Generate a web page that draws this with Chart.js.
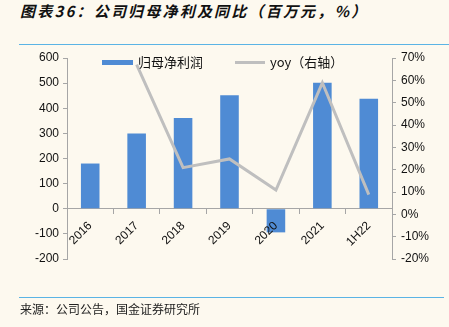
<!DOCTYPE html>
<html>
<head>
<meta charset="utf-8">
<script src="https://cdn.jsdelivr.net/npm/chart.js@4.4.0/dist/chart.umd.min.js"></script>
<style>
  html, body { margin: 0; padding: 0; background: #fdf9ef; }
  #wrap { position: relative; width: 449px; height: 327px; overflow: hidden; }
  #title { position: absolute; left: 20px; top: 0px; font: italic bold 15px "Noto Sans CJK SC", sans-serif; color: #111; letter-spacing: 2.2px; white-space: nowrap; }
  .rule { position: absolute; left: 19px; height: 1px; background: #5bb4e5; }
  #src { position: absolute; left: 20px; top: 300px; font: 12px "Noto Sans CJK SC", serif; color: #222; white-space: nowrap; }
  #c { position: absolute; left: 0; top: 0; }
</style>
</head>
<body>
<div id="wrap">
  <div id="title">图表36：公司归母净利及同比（百万元，%）</div>
  <div class="rule" style="top:44px; width:430px;"></div>
  <canvas id="c" width="449" height="327"></canvas>
  <div class="rule" style="top:297px; width:425px;"></div>
  <div id="src">来源：公司公告，国金证券研究所</div>
</div>
<script>
var years = ['2016', '2017', '2018', '2019', '2020', '2021', '1H22'];
var profit = [180, 300, 361, 452, -94, 501, 438];     // 归母净利润, 百万元
var yoy = [null, 67, 20.9, 24.8, 10.9, 58.9, 8.8];    // 同比, %
var leftTicks = [-200, 600, 100];
var rightTicks = [-20, 70, 10];

var barColor = '#4f8bd4';
var lineColor = '#bfbfbf';
var axisColor = '#a6a6a6';
var tickFont = { family: 'Liberation Sans, Arial', size: 12 };

// legend sits inside the plot, over the line
var insideLegend = {
  id: 'insideLegend',
  afterDatasetsDraw: function (chart) {
    var ctx = chart.ctx;
    ctx.save();
    ctx.fillStyle = '#fdf9ef';
    ctx.fillRect(137, 52, 72, 12);
    ctx.fillRect(268, 52, 80, 12);
    ctx.fillStyle = barColor;
    ctx.fillRect(102, 60, 31, 5);
    ctx.strokeStyle = lineColor;
    ctx.lineWidth = 3;
    ctx.beginPath();
    ctx.moveTo(235, 62.5);
    ctx.lineTo(265, 62.5);
    ctx.stroke();
    ctx.fillStyle = '#111';
    ctx.font = '13px "Noto Sans CJK SC", sans-serif';
    ctx.textBaseline = 'middle';
    ctx.fillText('归母净利润', 138, 62);
    ctx.fillText('yoy（右轴）', 270, 62);
    ctx.restore();
  }
};

new Chart(document.getElementById('c'), {
  type: 'bar',
  data: {
    labels: years,
    datasets: [{
      type: 'line',
      label: 'yoy（右轴）',
      data: yoy,
      yAxisID: 'y2',
      borderColor: lineColor,
      borderWidth: 3,
      pointRadius: 0,
      tension: 0,
      order: 0
    }, {
      label: '归母净利润',
      data: profit,
      yAxisID: 'y',
      backgroundColor: barColor,
      categoryPercentage: 1,
      barPercentage: 0.4,
      order: 1
    }]
  },
  options: {
    responsive: false,
    animation: false,
    layout: { padding: { left: 22, right: 0, top: 58, bottom: 68 } },
    plugins: { legend: { display: false }, tooltip: { enabled: false } },
    scales: {
      x: {
        position: { y: 0 },
        grid: { offset: true, drawOnChartArea: false, tickLength: 5, color: axisColor },
        border: { color: axisColor },
        ticks: { z: 1, color: '#111', font: tickFont, minRotation: 45, maxRotation: 45, padding: 5 }
      },
      y: {
        position: 'left',
        min: leftTicks[0], max: leftTicks[1],
        grid: { drawOnChartArea: false, tickLength: 4, color: axisColor },
        border: { color: axisColor },
        ticks: { stepSize: leftTicks[2], color: '#111', font: tickFont, padding: 4 },
        afterFit: function (s) { s.width = 45; }
      },
      y2: {
        position: 'right',
        min: rightTicks[0], max: rightTicks[1],
        grid: { drawOnChartArea: false, tickLength: 4, color: axisColor },
        border: { color: axisColor },
        ticks: { stepSize: rightTicks[2], color: '#111', font: tickFont, padding: 5,
          callback: function (v) { return v + '%'; } },
        afterFit: function (s) { s.width = 57; }
      }
    }
  },
  plugins: [insideLegend]
});
</script>
</body>
</html>
